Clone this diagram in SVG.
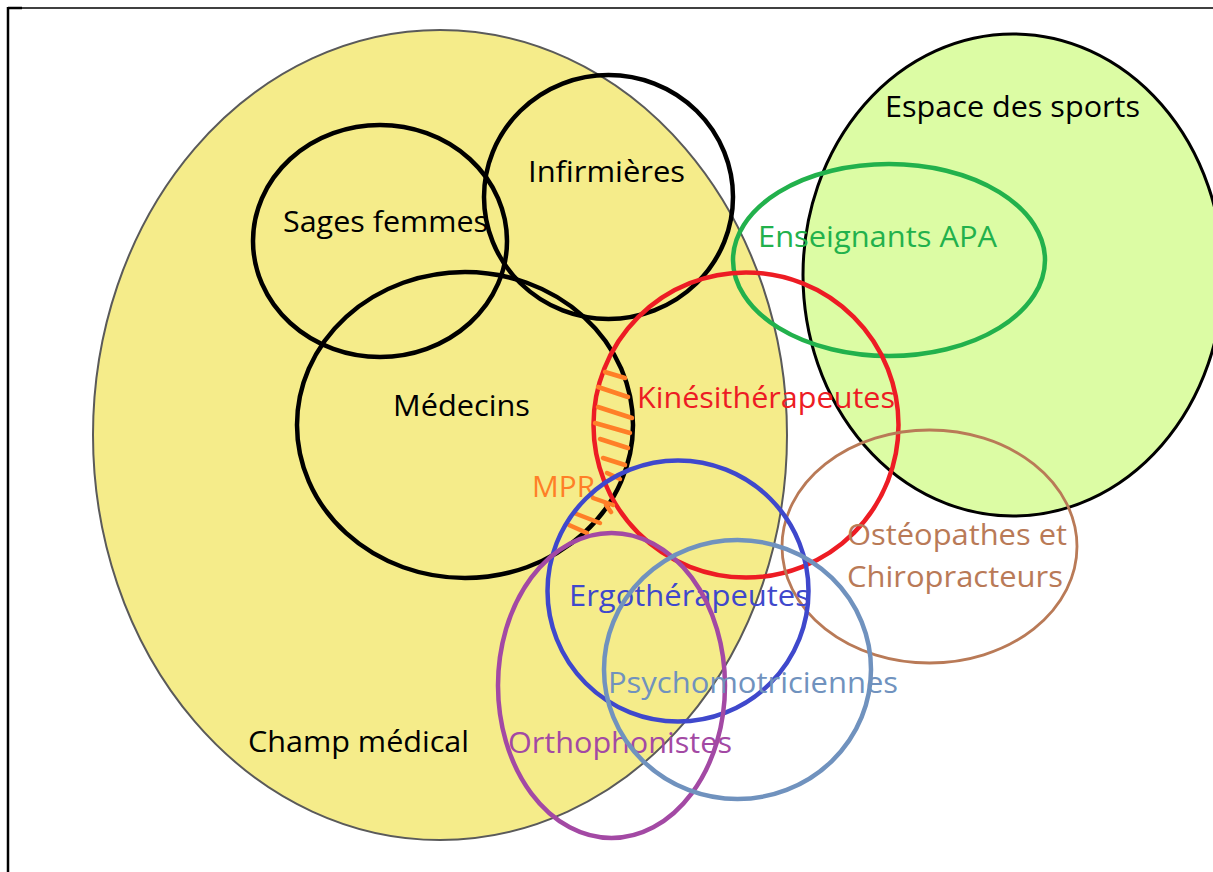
<svg xmlns="http://www.w3.org/2000/svg" width="1213" height="872" viewBox="0 0 1213 872">
<style>
.lbl{font-family:"Open Sans","Noto Sans","DejaVu Sans",sans-serif;font-size:30px;}
.ring{fill:none;}
.blk{stroke:#000;stroke-width:4.5;}
</style>
<rect x="0" y="0" width="1213" height="872" fill="#fff"/>
<g id="frame">
<line x1="8" y1="8" x2="1213" y2="8" stroke="#000" stroke-width="1.3"/>
<line x1="8" y1="8" x2="22" y2="8" stroke="#000" stroke-width="2.5"/>
<line x1="8" y1="7" x2="8" y2="872" stroke="#000" stroke-width="2.5"/>
</g>
<g id="champ-medical">
<ellipse cx="440" cy="435" rx="347" ry="405" fill="#f5ec8a" stroke="#5a5a5a" stroke-width="2"/>
<text class="lbl" x="248" y="752" fill="#000" textLength="221" lengthAdjust="spacingAndGlyphs">Champ médical</text>
</g>
<g id="espace-sports">
<ellipse cx="1013" cy="275" rx="210" ry="241" fill="#dcfca4" stroke="#000" stroke-width="3"/>
<text class="lbl" x="885" y="117" fill="#000" textLength="255" lengthAdjust="spacingAndGlyphs">Espace des sports</text>
</g>
<g id="sages-femmes">
<ellipse class="ring blk" cx="380" cy="241" rx="127" ry="116"/>
<text class="lbl" x="283" y="232" fill="#000" textLength="205" lengthAdjust="spacingAndGlyphs">Sages femmes</text>
</g>
<g id="infirmieres">
<ellipse class="ring blk" cx="608.5" cy="197" rx="124.5" ry="122"/>
<text class="lbl" x="528" y="182" fill="#000" textLength="157" lengthAdjust="spacingAndGlyphs">Infirmières</text>
</g>
<g id="medecins">
<ellipse class="ring blk" cx="465" cy="425" rx="168" ry="153"/>
<text class="lbl" x="393" y="416" fill="#000" textLength="137" lengthAdjust="spacingAndGlyphs">Médecins</text>
</g>
<g id="enseignants-apa">
<ellipse class="ring" cx="889" cy="260" rx="156" ry="96" stroke="#22b14c" stroke-width="4.5"/>
<text class="lbl" x="758" y="247" fill="#22b14c" textLength="239" lengthAdjust="spacingAndGlyphs">Enseignants APA</text>
</g>
<g id="kinesitherapeutes">
<circle class="ring" cx="746" cy="425" r="152.5" stroke="#ed1c24" stroke-width="4.5"/>
<text class="lbl" x="637" y="408" fill="#ed1c24" textLength="258" lengthAdjust="spacingAndGlyphs">Kinésithérapeutes</text>
</g>
<g id="mpr" stroke="#ff7f27" stroke-width="4.5" stroke-linecap="round">
<line x1="605" y1="372" x2="625" y2="378"/>
<line x1="598" y1="387" x2="628" y2="397"/>
<line x1="598" y1="407" x2="632" y2="418"/>
<line x1="595" y1="423" x2="630" y2="433"/>
<line x1="600" y1="439" x2="628" y2="448"/>
<line x1="603" y1="458" x2="625" y2="465"/>
<line x1="607" y1="473" x2="620" y2="479"/>
<line x1="593" y1="498" x2="613" y2="505"/>
<line x1="574" y1="513" x2="600" y2="523"/>
<line x1="569" y1="525" x2="587" y2="533"/>
<line x1="606" y1="505" x2="611" y2="512"/>
<text class="lbl" x="532" y="497" fill="#ff7f27" stroke="none" textLength="63" lengthAdjust="spacingAndGlyphs">MPR</text>
</g>
<g id="osteopathes">
<ellipse class="ring" cx="929.5" cy="546.5" rx="147.5" ry="116.5" stroke="#b97a57" stroke-width="2.8"/>
<text class="lbl" x="847" y="545" fill="#b97a57" textLength="220" lengthAdjust="spacingAndGlyphs">Ostéopathes et</text>
<text class="lbl" x="847" y="587" fill="#b97a57" textLength="216" lengthAdjust="spacingAndGlyphs">Chiropracteurs</text>
</g>
<g id="ergotherapeutes">
<circle class="ring" cx="678" cy="591" r="130.5" stroke="#3f48cc" stroke-width="4.5"/>
<text class="lbl" x="569" y="606" fill="#3f48cc" textLength="241" lengthAdjust="spacingAndGlyphs">Ergothérapeutes</text>
</g>
<g id="orthophonistes">
<ellipse class="ring" cx="611.5" cy="685.5" rx="113.5" ry="152.5" stroke="#a349a4" stroke-width="4.5"/>
<text class="lbl" x="508" y="753" fill="#a349a4" textLength="224" lengthAdjust="spacingAndGlyphs">Orthophonistes</text>
</g>
<g id="psychomotriciennes">
<ellipse class="ring" cx="737.5" cy="669.5" rx="133.5" ry="129.5" stroke="#7092be" stroke-width="4.5"/>
<text class="lbl" x="608" y="693" fill="#7092be" textLength="290" lengthAdjust="spacingAndGlyphs">Psychomotriciennes</text>
</g>
</svg>
